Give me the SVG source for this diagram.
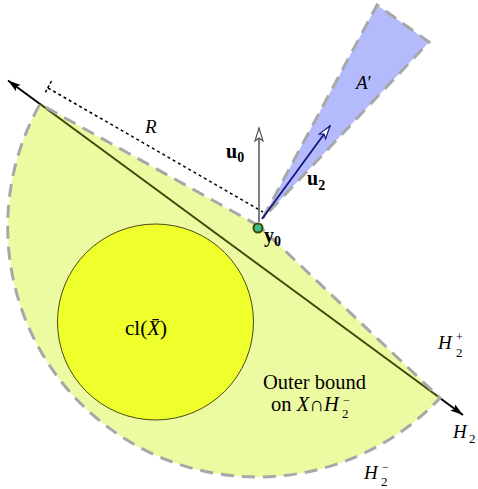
<svg xmlns="http://www.w3.org/2000/svg" width="478" height="489" viewBox="0 0 478 489">
<style>
text{font-family:"Liberation Serif","Times New Roman",serif;fill:#000}
.it{font-style:italic}
.bd{font-weight:bold}
.dash{fill:none;stroke:#a8a8a8;stroke-width:3;stroke-dasharray:13 8}
</style>
<defs>
<marker id="solid" markerUnits="userSpaceOnUse" markerWidth="14" markerHeight="10" refX="13" refY="4" orient="auto-start-reverse">
<path d="M0,0 L13,4 L0,8 L3,4 Z" fill="#000"/>
</marker>
<marker id="openGray" markerUnits="userSpaceOnUse" markerWidth="16" markerHeight="12" refX="14" refY="5" orient="auto">
<path d="M1,1 L14,5 L1,9 L4,5 Z" fill="#fff" stroke="#555" stroke-width="1.2"/>
</marker>
<marker id="openNavy" markerUnits="userSpaceOnUse" markerWidth="16" markerHeight="12" refX="14" refY="5" orient="auto">
<path d="M1,1 L14,5 L1,9 L4,5 Z" fill="#fff" stroke="#14147a" stroke-width="1.2"/>
</marker>
</defs>

<g id="connectors">
<line id="H2-line" x1="8" y1="80.5" x2="463" y2="415" stroke="#000" stroke-width="2" marker-start="url(#solid)" marker-end="url(#solid)"/>
</g>

<g id="outer-bound">
<path d="M259,226 L40,104 A250,250 0 0 0 440,398 Z" fill="#ecfba2"/>
<line x1="40" y1="104" x2="440" y2="398" stroke="#3e4808" stroke-width="2"/>
<path class="dash" d="M259,226 L40,104 A250,250 0 0 0 440,398 Z"/>
<text x="263" y="389" font-size="20.5">Outer bound</text>
<text x="271" y="411" font-size="20.5">on <tspan class="it">X</tspan>∩<tspan class="it">H</tspan></text>
<text x="343" y="404" font-size="12">−</text>
<text x="342" y="418" font-size="13">2</text>
</g>

<g id="closure">
<circle cx="155.5" cy="322" r="98" fill="#eeff2c" stroke="#4a4a12" stroke-width="1"/>
<text x="125" y="335" font-size="21">cl(<tspan class="it">X̄</tspan>)</text>
</g>

<g id="radius-R">
<line x1="48" y1="88" x2="263" y2="212" stroke="#000" stroke-width="1.5" stroke-dasharray="3 3"/>
<line x1="51.5" y1="81" x2="44.5" y2="94" stroke="#000" stroke-width="1.5" stroke-dasharray="3 2"/>
<text class="it" x="145" y="133" font-size="19">R</text>
</g>

<g id="cone-A">
<path d="M263,218 L377,5 L429,42 Z" fill="#b3bbfc"/>
<path class="dash" d="M263,218 L377,5 L429,42 Z"/>
<text x="356" y="89" font-size="19"><tspan class="it">A</tspan>′</text>
</g>

<g id="u0">
<line x1="259" y1="222" x2="259" y2="128" stroke="#555" stroke-width="1.5" marker-end="url(#openGray)"/>
<text class="bd" x="226" y="158" font-size="20">u<tspan font-size="14" dy="4">0</tspan></text>
</g>

<g id="u2">
<line x1="262" y1="219" x2="330" y2="126" stroke="#14147a" stroke-width="1.8" marker-end="url(#openNavy)"/>
<text class="bd" x="307" y="185" font-size="20">u<tspan font-size="14" dy="5">2</tspan></text>
</g>

<g id="y0">
<circle cx="258" cy="228" r="4.5" fill="#3fbf8a" stroke="#3e4808" stroke-width="2"/>
<text class="bd" x="264" y="242" font-size="20">y<tspan font-size="14" dy="4">0</tspan></text>
</g>

<g id="H2-labels">
<text class="it" x="438" y="349" font-size="19">H</text>
<text x="456" y="341" font-size="12">+</text>
<text x="456" y="357" font-size="13">2</text>
<text class="it" x="453" y="438" font-size="19">H</text>
<text x="469" y="443" font-size="13">2</text>
<text class="it" x="364" y="479" font-size="19">H</text>
<text x="382" y="471" font-size="12">−</text>
<text x="381" y="486" font-size="13">2</text>
</g>
</svg>
